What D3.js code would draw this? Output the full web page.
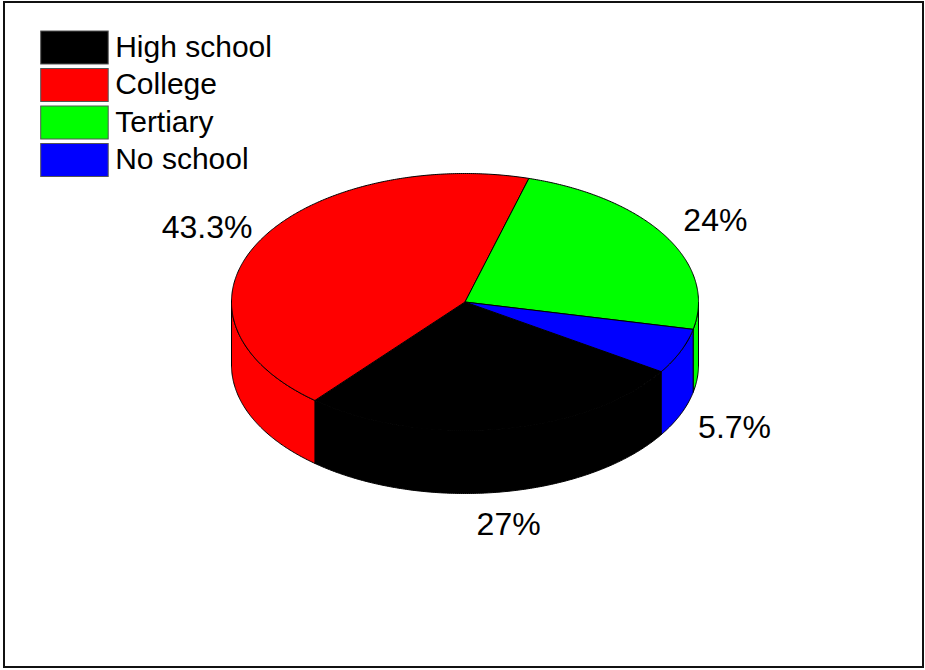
<!DOCTYPE html>
<html>
<head>
<meta charset="utf-8">
<script src="https://cdn.jsdelivr.net/npm/d3@7/dist/d3.min.js"></script>
<style>
  html, body { margin: 0; padding: 0; background: #fff; }
  svg { display: block; font-family: Arial, "Liberation Sans", Helvetica, sans-serif; }
</style>
</head>
<body>
<svg id="chart" width="925" height="670"></svg>
<script>
// Education level shares (percent)
const categories = ["High school", "College", "Tertiary", "No school"];
const shares = [27, 43.3, 24, 5.7];
const valueLabels = ["27%", "43.3%", "24%", "5.7%"];
const colors = ["#000000", "#ff0000", "#00ff00", "#0000ff"];

// Layout of the tilted pie
const W = 925, H = 670;
const cx = 465, cy = 302;     // centre of the top face
const rx = 233.5, ry = 128.5; // ellipse radii of the top face
const depth = 63;             // height of the cylinder wall
const startDeg = 122.8;       // where the first slice begins (d3 angle, clockwise from 12 o'clock)

const svg = d3.select("#chart");
svg.append("rect").attr("width", W).attr("height", H).attr("fill", "#fff");

// Outer frame
svg.append("rect")
  .attr("x", 4).attr("y", 2).attr("width", 919).attr("height", 665)
  .attr("fill", "none").attr("stroke", "#111").attr("stroke-width", 2);

const start = startDeg * Math.PI / 180;
const pie = d3.pie().sort(null).value(d => d.v)
  .startAngle(start).endAngle(start + 2 * Math.PI);
const arcs = pie(categories.map((c, i) => ({ c, v: shares[i], i })));

// Point on the ellipse for a d3 angle, shifted down by dy
const pt = (a, dy) => [cx + rx * Math.sin(a), cy - ry * Math.cos(a) + dy];
function arcPts(a0, a1, dy) {
  const n = Math.max(2, Math.ceil(Math.abs(a1 - a0) / (Math.PI / 360)));
  return d3.range(n + 1).map(k => pt(a0 + (a1 - a0) * k / n, dy));
}
const line = d3.line();

// Outer walls: only the front half (between 90° and 270°) faces the viewer
const frontRanges = [
  [Math.PI / 2, 3 * Math.PI / 2],
  [Math.PI / 2 + 2 * Math.PI, 3 * Math.PI / 2 + 2 * Math.PI]
];
const walls = svg.append("g");
arcs.forEach(d => {
  frontRanges.forEach(([f0, f1]) => {
    const s = Math.max(d.startAngle, f0), e = Math.min(d.endAngle, f1);
    if (e <= s) return;
    const top = arcPts(s, e, 0);
    const bottom = arcPts(e, s, depth);
    walls.append("path")
      .attr("d", line(top.concat(bottom)) + "Z")
      .attr("fill", colors[d.data.i])
      .attr("stroke", "#000").attr("stroke-width", 1)
      .attr("stroke-linejoin", "round");
  });
});

// Top faces
const tops = svg.append("g");
arcs.forEach(d => {
  const pts = [[cx, cy]].concat(arcPts(d.startAngle, d.endAngle, 0));
  tops.append("path")
    .attr("d", line(pts) + "Z")
    .attr("fill", colors[d.data.i])
    .attr("stroke", "#000").attr("stroke-width", 1)
    .attr("stroke-linejoin", "round");
});

// Percentage labels outside the pie
const labelK = 1.25;
svg.append("g").selectAll("text").data(arcs).join("text")
  .attr("x", d => cx + labelK * rx * Math.sin((d.startAngle + d.endAngle) / 2))
  .attr("y", d => {
    const m = (d.startAngle + d.endAngle) / 2;
    return cy - labelK * ry * Math.cos(m) + (Math.cos(m) < 0 ? depth : 0);
  })
  .attr("dy", "0.36em")
  .attr("text-anchor", "middle")
  .attr("font-size", 32)
  .attr("fill", "#000")
  .text(d => valueLabels[d.data.i]);

// Legend
const legend = svg.append("g").selectAll("g").data(categories).join("g")
  .attr("transform", (d, i) => `translate(40.7, ${31 + i * 37.5})`);
legend.append("rect")
  .attr("width", 67.5).attr("height", 33)
  .attr("fill", (d, i) => colors[i])
  .attr("stroke", "#555").attr("stroke-width", 1);
legend.append("text")
  .attr("x", 74.5).attr("y", 25.7)
  .attr("font-size", 30)
  .attr("fill", "#000")
  .text(d => d);
</script>
</body>
</html>
